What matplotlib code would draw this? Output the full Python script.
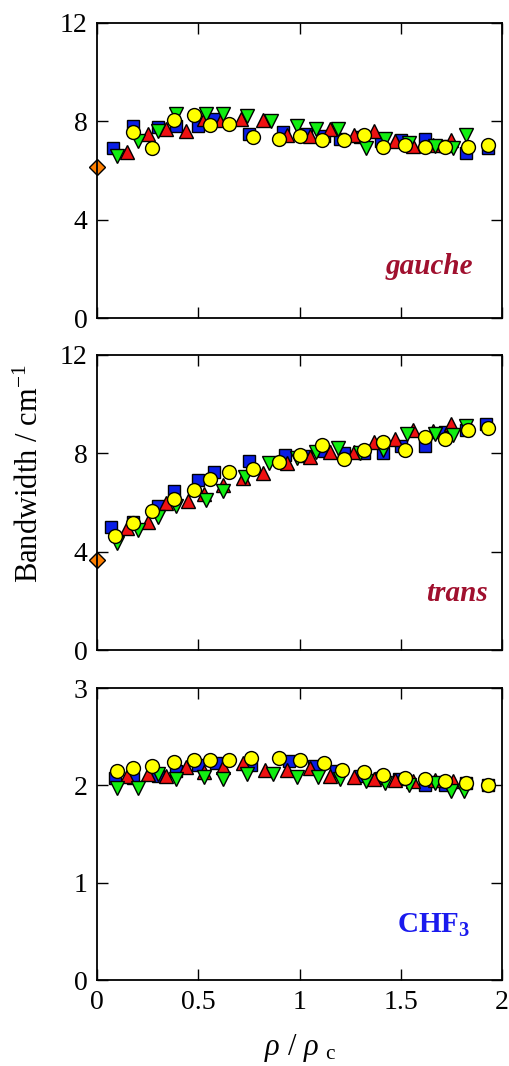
import matplotlib
matplotlib.use("Agg")
import matplotlib.pyplot as plt

plt.rcParams['font.family'] = 'serif'
plt.rcParams['font.serif'] = ['Liberation Serif']
plt.rcParams['mathtext.fontset'] = 'custom'
plt.rcParams['mathtext.rm'] = 'Liberation Serif'
plt.rcParams['mathtext.it'] = 'Liberation Serif:italic'
plt.rcParams['mathtext.bf'] = 'Liberation Serif:bold'

# ---------------- data ----------------
# gauche panel
g_blue_x = [0.08, 0.18, 0.30, 0.39, 0.50, 0.58, 0.75, 0.92, 1.03, 1.12, 1.20, 1.30, 1.40, 1.50, 1.62, 1.72, 1.82, 1.93]
g_blue_y = [6.9, 7.8, 7.75, 7.8, 7.8, 8.1, 7.5, 7.55, 7.5, 7.4, 7.3, 7.35, 7.2, 7.25, 7.3, 7.0, 6.7, 6.9]
g_red_x = [0.15, 0.25, 0.34, 0.44, 0.53, 0.61, 0.71, 0.82, 0.94, 1.05, 1.15, 1.27, 1.37, 1.47, 1.56, 1.66, 1.75]
g_red_y = [6.75, 7.5, 7.7, 7.6, 8.1, 8.05, 8.1, 8.05, 7.45, 7.4, 7.7, 7.45, 7.6, 7.2, 7.0, 7.05, 7.25]
g_green_x = [0.10, 0.20, 0.30, 0.39, 0.54, 0.62, 0.74, 0.86, 0.99, 1.08, 1.19, 1.33, 1.42, 1.54, 1.67, 1.76, 1.82]
g_green_y = [6.6, 7.2, 7.6, 8.3, 8.3, 8.3, 8.2, 8.0, 7.8, 7.7, 7.7, 6.9, 7.3, 7.1, 7.0, 6.9, 7.45]
g_yellow_x = [0.18, 0.27, 0.38, 0.48, 0.56, 0.65, 0.77, 0.90, 1.00, 1.11, 1.22, 1.32, 1.41, 1.52, 1.62, 1.72, 1.83, 1.93]
g_yellow_y = [7.55, 6.9, 8.05, 8.25, 7.85, 7.9, 7.35, 7.3, 7.4, 7.25, 7.25, 7.45, 6.95, 7.05, 6.95, 6.95, 6.95, 7.05]
g_gas_x = [0.0]
g_gas_y = [6.15]

# trans panel
t_blue_x = [0.07, 0.18, 0.30, 0.38, 0.50, 0.58, 0.75, 0.93, 1.03, 1.12, 1.22, 1.32, 1.41, 1.50, 1.62, 1.72, 1.82, 1.92]
t_blue_y = [5.0, 5.2, 5.85, 6.45, 6.9, 7.25, 7.7, 7.95, 7.9, 8.1, 8.0, 8.0, 8.0, 8.3, 8.3, 8.85, 8.95, 9.2]
t_red_x = [0.15, 0.25, 0.34, 0.45, 0.53, 0.62, 0.72, 0.82, 0.94, 1.05, 1.15, 1.27, 1.37, 1.47, 1.56, 1.66, 1.75]
t_red_y = [4.95, 5.2, 6.0, 6.05, 6.35, 6.7, 7.0, 7.2, 7.6, 7.85, 8.05, 8.05, 8.45, 8.6, 8.95, 8.9, 9.2]
t_green_x = [0.10, 0.20, 0.30, 0.39, 0.54, 0.62, 0.73, 0.85, 0.99, 1.08, 1.19, 1.30, 1.41, 1.53, 1.67, 1.76, 1.82]
t_green_y = [4.35, 4.9, 5.4, 5.85, 6.1, 6.45, 7.05, 7.6, 7.8, 8.05, 8.2, 8.0, 8.15, 8.8, 8.8, 8.75, 9.1]
t_yellow_x = [0.09, 0.18, 0.27, 0.38, 0.48, 0.56, 0.65, 0.77, 0.90, 1.00, 1.11, 1.22, 1.32, 1.41, 1.52, 1.62, 1.72, 1.83, 1.93]
t_yellow_y = [4.65, 5.15, 5.65, 6.15, 6.5, 6.95, 7.25, 7.35, 7.65, 7.95, 8.35, 7.75, 8.15, 8.45, 8.15, 8.65, 8.6, 8.95, 9.05]
t_gas_x = [0.0]
t_gas_y = [3.66]

# CHF3 panel
c_blue_x = [0.09, 0.18, 0.30, 0.39, 0.50, 0.59, 0.76, 0.95, 1.07, 1.18, 1.30, 1.40, 1.49, 1.62, 1.72, 1.82, 1.93]
c_blue_y = [2.08, 2.08, 2.1, 2.15, 2.21, 2.23, 2.21, 2.25, 2.2, 2.15, 2.1, 2.08, 2.06, 2.0, 2.0, 2.02, 2.0]
c_red_x = [0.15, 0.25, 0.34, 0.44, 0.53, 0.62, 0.72, 0.83, 0.94, 1.05, 1.15, 1.27, 1.37, 1.47, 1.56, 1.67, 1.76]
c_red_y = [2.1, 2.12, 2.1, 2.19, 2.14, 2.19, 2.23, 2.16, 2.16, 2.18, 2.1, 2.09, 2.07, 2.05, 2.04, 2.05, 2.04]
c_green_x = [0.10, 0.20, 0.30, 0.39, 0.53, 0.62, 0.74, 0.87, 0.99, 1.09, 1.20, 1.33, 1.42, 1.54, 1.67, 1.75, 1.81]
c_green_y = [1.97, 1.97, 2.12, 2.07, 2.09, 2.06, 2.12, 2.12, 2.09, 2.09, 2.07, 2.04, 2.02, 2.0, 2.02, 1.94, 1.94]
c_yellow_x = [0.10, 0.18, 0.27, 0.38, 0.48, 0.56, 0.65, 0.76, 0.90, 1.00, 1.12, 1.21, 1.32, 1.41, 1.52, 1.62, 1.72, 1.82, 1.93]
c_yellow_y = [2.15, 2.18, 2.2, 2.24, 2.26, 2.26, 2.26, 2.28, 2.28, 2.26, 2.23, 2.16, 2.14, 2.11, 2.08, 2.06, 2.04, 2.02, 2.0]

x_ticks = [0, 0.5, 1, 1.5, 2]
x_tick_labels = ['0', '0.5', '1', '1.5', '2']
y_ticks_top = [0, 4, 8, 12]
y_ticks_bottom = [0, 1, 2, 3]
panel_labels = ['gauche', 'trans', r'CHF$_\mathbf{3}$']

# ---------------- figure ----------------
W, H = 509, 1066
fig = plt.figure(figsize=(W / 100, H / 100), dpi=100)
SERIF = 'Liberation Serif'

left = 97 / W
width = (502 - 97) / W
panels = [(23, 318), (355, 650), (688, 980)]
axes = []
for top, bot in panels:
    ax = fig.add_axes([left, 1 - bot / H, width, (bot - top) / H])
    axes.append(ax)

ms = 10
style = dict(linestyle='none', markeredgecolor='black', markeredgewidth=1.0, markersize=ms, clip_on=False)
blue = '#0a1ee6'
red = '#ee1111'
green = '#11ee11'
yellow = '#ffff00'
orange = '#ff7f00'

datasets = [
    (g_blue_x, g_blue_y, g_red_x, g_red_y, g_green_x, g_green_y, g_yellow_x, g_yellow_y, g_gas_x, g_gas_y),
    (t_blue_x, t_blue_y, t_red_x, t_red_y, t_green_x, t_green_y, t_yellow_x, t_yellow_y, t_gas_x, t_gas_y),
    (c_blue_x, c_blue_y, c_red_x, c_red_y, c_green_x, c_green_y, c_yellow_x, c_yellow_y, None, None),
]

for i, (ax, d) in enumerate(zip(axes, datasets)):
    bx, by, rx, ry, gx, gy, yx, yy, ox, oy = d
    ax.plot(bx, by, marker='s', color=blue, **{**style, 'markersize': ms - 1})
    ax.plot(rx, ry, marker='^', color=red, **style)
    ax.plot(gx, gy, marker='v', color=green, **style)
    ax.plot(yx, yy, marker='o', color=yellow, **style)
    if ox is not None:
        ax.plot(ox, oy, marker='D', color=orange, **{**style, 'markersize': ms - 2})
    ax.set_xlim(0, 2)
    if i < 2:
        ax.set_ylim(0, 12)
        ax.set_yticks(y_ticks_top)
        ax.set_yticklabels([str(v) for v in y_ticks_top], family=SERIF)
    else:
        ax.set_ylim(0, 3)
        ax.set_yticks(y_ticks_bottom)
        ax.set_yticklabels([str(v) for v in y_ticks_bottom], family=SERIF)
    ax.set_xticks(x_ticks)
    if i == 2:
        ax.set_xticklabels(x_tick_labels, family=SERIF)
    else:
        ax.set_xticklabels([])
    ax.tick_params(direction='in', top=True, right=True, length=8, width=1.0,
                   labelsize=20, pad=7)
    for s in ax.spines.values():
        s.set_linewidth(1.3)

axes[0].text(0.928, 0.173, panel_labels[0], transform=axes[0].transAxes, ha='right', va='center',
             fontsize=21, fontweight='bold', fontstyle='italic', color='#a0102e', family=SERIF)
axes[1].text(0.965, 0.19, panel_labels[1], transform=axes[1].transAxes, ha='right', va='center',
             fontsize=21, fontweight='bold', fontstyle='italic', color='#a0102e', family=SERIF)
axes[2].text(0.921, 0.188, panel_labels[2], transform=axes[2].transAxes, ha='right', va='center',
             fontsize=21, fontweight='bold', color='#1a1aee', family=SERIF)

fig.text(30 / W, 1 - 474 / H, r'Bandwidth / cm$^{-1}$', rotation=90, ha='center', va='center',
         fontsize=22, family=SERIF)
fig.text(300 / W, 1 - 1048 / H, r'$\rho$ / $\rho$ $_{\rm c}$', ha='center', va='center',
         fontsize=22, family=SERIF)

fig.savefig('out.png', dpi=100)
